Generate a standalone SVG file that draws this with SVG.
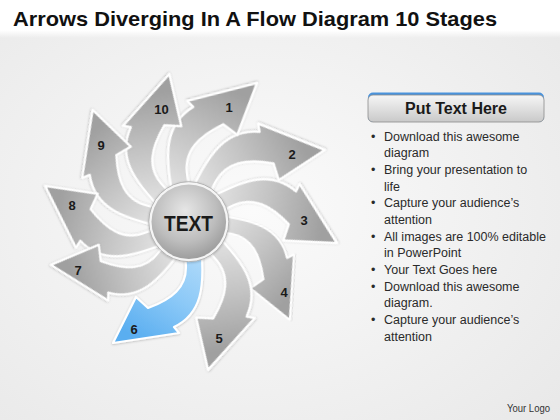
<svg xmlns="http://www.w3.org/2000/svg" xmlns:xlink="http://www.w3.org/1999/xlink" width="560" height="420" viewBox="0 0 560 420">
  <style>
    .title{font-family:"Liberation Sans",Arial,sans-serif;font-weight:bold;font-size:21px;fill:#111}
    .num{font-family:"Liberation Sans",Arial,sans-serif;font-weight:bold;font-size:13px;fill:#1a1a1a;text-anchor:middle}
    .center{font-family:"Liberation Sans",Arial,sans-serif;font-weight:bold;font-size:22px;fill:#1a1a1a;text-anchor:middle}
    .head{font-family:"Liberation Sans",Arial,sans-serif;font-weight:bold;font-size:16px;fill:#1a1a1a;text-anchor:middle}
    .body{font-family:"Liberation Sans",Arial,sans-serif;font-size:12.5px;fill:#2a2a2a}
    .logo{font-family:"Liberation Sans",Arial,sans-serif;font-size:10.5px;fill:#333}
    .arr{stroke:#ffffff;stroke-width:2.2;stroke-linejoin:round;filter:url(#sh)}
    .gray{fill:url(#gGray)}
    .blue{fill:url(#gBlue)}
  </style>
  <defs>
    <radialGradient id="bg" cx="0.45" cy="0.5" r="0.75">
      <stop offset="0" stop-color="#fbfbfb"/>
      <stop offset="1" stop-color="#e8e8e8"/>
    </radialGradient>
    <linearGradient id="topband" x1="0" y1="0" x2="0" y2="1">
      <stop offset="0" stop-color="#ffffff"/>
      <stop offset="0.8" stop-color="#ffffff"/>
      <stop offset="1" stop-color="#ffffff" stop-opacity="0"/>
    </linearGradient>
    <linearGradient id="gGray" gradientUnits="userSpaceOnUse" x1="4" y1="22" x2="-55" y2="115">
      <stop offset="0" stop-color="#e4e4e4"/>
      <stop offset="0.5" stop-color="#c4c4c4"/>
      <stop offset="1" stop-color="#a0a0a0"/>
    </linearGradient>
    <linearGradient id="gBlue" gradientUnits="userSpaceOnUse" x1="4" y1="22" x2="-55" y2="115">
      <stop offset="0" stop-color="#b4dcfa"/>
      <stop offset="0.5" stop-color="#8cc9f7"/>
      <stop offset="1" stop-color="#5aaef0"/>
    </linearGradient>
    <radialGradient id="ball" cx="0.45" cy="0.35" r="0.7">
      <stop offset="0" stop-color="#e6e6e6"/>
      <stop offset="0.6" stop-color="#bdbdbd"/>
      <stop offset="1" stop-color="#979797"/>
    </radialGradient>
    <linearGradient id="hdr" x1="0" y1="0" x2="0" y2="1">
      <stop offset="0" stop-color="#f6f6f6"/>
      <stop offset="1" stop-color="#c9c9c9"/>
    </linearGradient>
    <filter id="sh" x="-20%" y="-20%" width="140%" height="140%">
      <feDropShadow dx="0" dy="0.6" stdDeviation="0.8" flood-color="#000" flood-opacity="0.25"/>
    </filter>
    <path id="arrowShape" d="M -5,16 L 13,16 L 12.5,26 C 16,65 13,92 -14.8,105.3 L -9.8,111.3 L -75.8,121.3 L -52.8,75.3 L -40.8,86.3 C -18,78 -1,66 -3,42 Z"/>
  </defs>

  <rect width="560" height="420" fill="url(#bg)"/>
  <rect width="560" height="38" fill="url(#topband)"/>

  <text class="title" x="13" y="26" textLength="484" lengthAdjust="spacingAndGlyphs">Arrows Diverging In A Flow Diagram 10 Stages</text>

  <g id="connectors"></g>

  <g id="stage-4"><use href="#arrowShape" class="arr gray" transform="translate(188.8 221.7) rotate(-77.8) scale(0.986)"/><text class="num" x="284" y="296.5">4</text></g>
  <g id="stage-3"><use href="#arrowShape" class="arr gray" transform="translate(188.8 221.7) rotate(-113.8) scale(1.047)"/><text class="num" x="304" y="224.5">3</text></g>
  <g id="stage-2"><use href="#arrowShape" class="arr gray" transform="translate(188.8 221.7) rotate(-149.8) scale(1.076)"/><text class="num" x="292" y="158.5">2</text></g>
  <g id="stage-1"><use href="#arrowShape" class="arr gray" transform="translate(188.8 221.7) rotate(-185.8) scale(1.081)"/><text class="num" x="229" y="111.5">1</text></g>
  <g id="stage-10"><use href="#arrowShape" class="arr gray" transform="translate(188.8 221.7) rotate(140.5) scale(1.042)"/><text class="num" x="161.5" y="113.5">10</text></g>
  <g id="stage-9"><use href="#arrowShape" class="arr gray" transform="translate(188.8 221.7) rotate(107.3) scale(1.031)"/><text class="num" x="101" y="149.5">9</text></g>
  <g id="stage-8"><use href="#arrowShape" class="arr gray" transform="translate(188.8 221.7) rotate(72) scale(1.036)"/><text class="num" x="72" y="209.5">8</text></g>
  <g id="stage-7"><use href="#arrowShape" class="arr gray" transform="translate(188.8 221.7) rotate(40.6) scale(1.01)"/><text class="num" x="78" y="274.5">7</text></g>
  <g id="stage-5"><use href="#arrowShape" class="arr gray" transform="translate(188.8 221.7) rotate(-39.4) scale(1.045)"/><text class="num" x="219" y="342.5">5</text></g>
  <g id="stage-6"><use href="#arrowShape" class="arr blue" transform="translate(188.8 221.7)"/><text class="num" x="134" y="333.5">6</text></g>

  <g id="center">
    <circle cx="188.8" cy="221.7" r="40" fill="#f5f5f5" stroke="#a8a8a8" stroke-width="0.8" filter="url(#sh)"/>
    <circle cx="188.8" cy="221.7" r="37.3" fill="url(#ball)"/>
    <text class="center" x="188.5" y="231" textLength="49" lengthAdjust="spacingAndGlyphs">TEXT</text>
  </g>

  <g id="panel-header">
    <rect x="368" y="92.5" width="176" height="29.5" rx="5" fill="#4a93dc"/>
    <rect x="368" y="95" width="176" height="27" rx="5" fill="url(#hdr)" stroke="#8c8c8c" stroke-width="0.8"/>
    <text class="head" x="456" y="114">Put Text Here</text>
  </g>

  <g id="panel-text" class="body">
    <text x="371" y="140.5">•</text><text x="384" y="140.5">Download this awesome</text>
    <text x="384" y="157.2">diagram</text>
    <text x="371" y="173.8">•</text><text x="384" y="173.8">Bring your presentation to</text>
    <text x="384" y="190.5">life</text>
    <text x="371" y="207.2">•</text><text x="384" y="207.2">Capture your audience’s</text>
    <text x="384" y="223.8">attention</text>
    <text x="371" y="240.5">•</text><text x="384" y="240.5">All images are 100% editable</text>
    <text x="384" y="257.2">in PowerPoint</text>
    <text x="371" y="273.8">•</text><text x="384" y="273.8">Your Text Goes here</text>
    <text x="371" y="290.5">•</text><text x="384" y="290.5">Download this awesome</text>
    <text x="384" y="307.2">diagram.</text>
    <text x="371" y="323.8">•</text><text x="384" y="323.8">Capture your audience’s</text>
    <text x="384" y="340.5">attention</text>
  </g>

  <text class="logo" x="507" y="411.5" textLength="43" lengthAdjust="spacingAndGlyphs">Your Logo</text>
</svg>
